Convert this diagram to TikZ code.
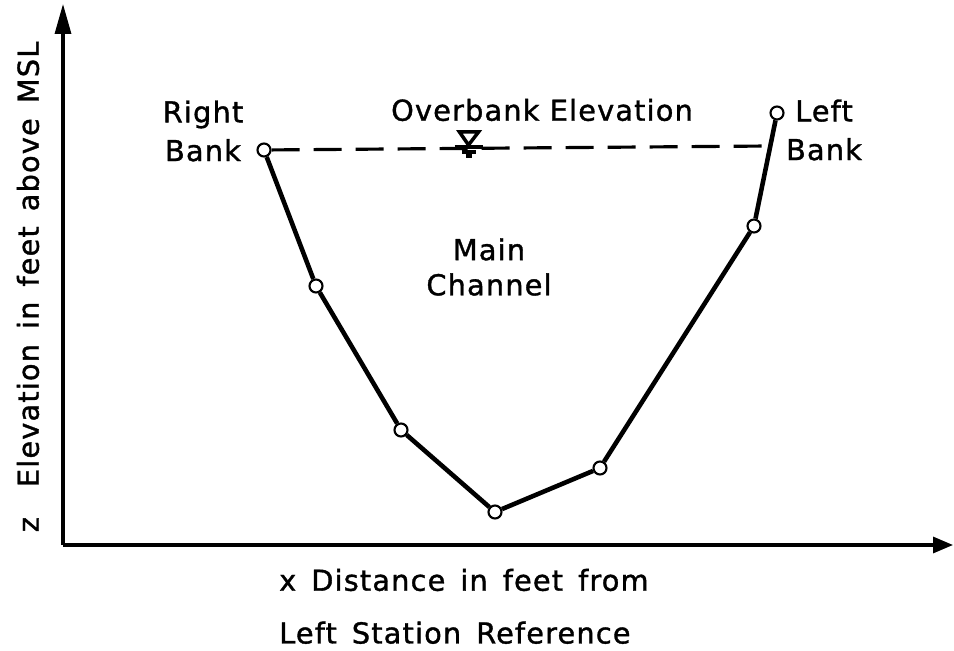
\documentclass[tikz,border=0pt]{standalone}
\usepackage{fontspec}
\setmainfont{DejaVu Sans}[LetterSpace=4,FakeBold=1.2]
\usepackage{tikz}
\usetikzlibrary{
	arrows.meta,
	positioning,
	calc
}
\usepackage{xcolor}
\newcommand{\gap}{\hspace{0.52em}}

\begin{document}
\begin{tikzpicture}[
		>={Triangle[length=2mm,width=1.6mm]},
		station/.style={
			circle,
			draw,
			fill=white,
			line width=0.6pt,
			minimum size=1.3mm,
			inner sep=0pt
		},
		axis/.style={
			->,
			line width=0.9pt
		},
		profile/.style={
			line width=1.3pt,
			line join=round
		},
		lbl/.style={
			font=\fontsize{8.2}{10}\selectfont,
			align=center,
			inner sep=1pt
		}
		]
		
		% Frame
		\useasboundingbox (0,0) rectangle (9.54,6.50);
		
		% Axes
		\coordinate (origin) at (0.63,1.05);
		\coordinate (ytop) at (0.63,6.46);
		\coordinate (xend) at (9.53,1.05);
		\draw[axis,>={Triangle[length=3mm,width=1.6mm]}] (origin) -- (ytop);
		\draw[axis] (origin) -- (xend);
		
		% Cross section
		\node[station] (rb) at (2.64,5.00) {};
		\node[station] (s2) at (3.16,3.64) {};
		\node[station] (s3) at (4.01,2.20) {};
		\node[station] (s4) at (4.95,1.38) {};
		\node[station] (s5) at (6.00,1.82) {};
		\node[station] (s6) at (7.54,4.24) {};
		\node[station] (lb) at (7.77,5.37) {};
		\draw[profile] (rb) -- (s2) -- (s3) -- (s4) -- (s5) -- (s6) -- (lb);
		
		% Overbank elevation
		\coordinate (wl) at (7.70,5.04);
		\draw[dashed,line width=0.9pt,dash pattern=on 2.8mm off 1.4mm] (rb) -- (wl);
		\coordinate (ws) at (4.685,5.03);
		\draw[line width=1pt,fill=white] ($(ws)+(-0.09,0.15)$) -- ($(ws)+(0.10,0.15)$) -- ($(ws)+(0,0.02)$) -- cycle;
		\draw[line width=1.2pt] ($(ws)+(-0.14,0)$) -- ($(ws)+(0.14,0)$);
		\draw[line width=0.9pt] ($(ws)+(-0.07,-0.05)$) -- ($(ws)+(0.07,-0.05)$);
		\draw[line width=0.9pt] ($(ws)+(-0.03,-0.09)$) -- ($(ws)+(0.03,-0.09)$);
		
		% Labels
		\node[lbl] (rbl) at (2.03,5.19) {Right\\[1pt]Bank};
		\node[lbl] (lbl) at (8.24,5.20) {Left\\[1pt]Bank};
		\node[lbl] (ovb) at (5.42,5.40) {Overbank Elevation};
		\node[lbl] (mc) at (4.89,3.83) {Main\\Channel};
		\node[lbl,rotate=90] (ylab) at (0.28,3.63) {z\gap\gap Elevation\gap in\gap feet\gap above\gap MSL};
		\node[lbl,anchor=west] (xlab) at (2.75,0.70) {x\gap Distance\gap in\gap feet\gap from};
		\node[lbl,anchor=north west] (xlab2) at ([yshift=-0.22cm]xlab.south west) {Left\gap Station\gap Reference};
		
	\end{tikzpicture}
\end{document}
